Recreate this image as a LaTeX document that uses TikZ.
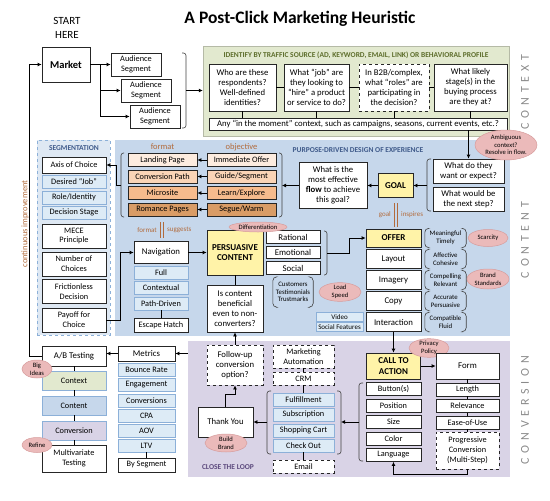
\documentclass[tikz,border=0pt]{standalone}
\usepackage{fontspec}
\setmainfont{Carlito}
\newfontfamily\spacedfont[LetterSpace=40]{Carlito}
\usetikzlibrary{positioning,arrows.meta,shapes.geometric}

\definecolor{ctxgreen}{HTML}{E2E9CF}
\definecolor{cntblue}{HTML}{C6D7EB}
\definecolor{cnvpurple}{HTML}{D9D3E6}
\definecolor{segblue}{HTML}{DEE8F3}
\definecolor{subblue}{HTML}{DDEBF6}
\definecolor{subline}{HTML}{8CB0D8}
\definecolor{yel}{HTML}{FFF3A8}
\definecolor{peachA}{HTML}{FDECDF}
\definecolor{peachB}{HTML}{FAD4B6}
\definecolor{peachC}{HTML}{F6BB8D}
\definecolor{peachD}{HTML}{D99C66}
\definecolor{pinkf}{HTML}{EBBABA}
\definecolor{pinkd}{HTML}{D79C9C}
\definecolor{brn}{HTML}{B26B3C}
\definecolor{hgreen}{HTML}{5E6E2C}
\definecolor{hblue}{HTML}{3F5A8A}
\definecolor{hpurple}{HTML}{5D4A7E}
\definecolor{sidegray}{HTML}{8A8A8A}

\tikzset{
  box/.style={draw=black!85, fill=white, line width=.8pt, align=center, inner sep=1pt,
    font=\fontsize{8.3}{9.8}\selectfont},
  qbox/.style={box, font=\fontsize{8.7}{10}\selectfont},
  sub/.style={box, fill=subblue, draw=subline},
  hot/.style={box, fill=yel, font=\fontsize{9}{10.5}\selectfont\bfseries},
  blob/.style={ellipse, fill=pinkf, draw=pinkd, line width=.5pt, inner sep=0pt, align=center,
    font=\fontsize{6.6}{7.6}\selectfont},
  note/.style={align=center, inner sep=1pt, font=\fontsize{6.8}{7.8}\selectfont},
  region/.style={inner sep=0pt, line width=.4pt},
  heading/.style={font=\fontsize{7.5}{9}\selectfont\bfseries},
  sidelbl/.style={rotate=90, text=sidegray, font=\spacedfont\fontsize{12}{13}\selectfont},
  brnlbl/.style={text=brn, inner sep=1pt, font=\fontsize{7}{8}\selectfont},
  arr/.style={-{Latex[length=4pt,width=4pt]}, line width=.8pt},
  ln/.style={line width=.8pt},
  brk/.style={line width=.6pt, draw=black!75, rounded corners=2.5pt},
  twin/.style={brn, line width=.9pt},
  wh/.style 2 args={minimum width=#1, minimum height=#2},
}
\newcommand\parenbox[1]{%
  \draw[brk, rounded corners=4pt] ([xshift=3pt]#1.north west) -- (#1.north west) -- (#1.south west) -- ([xshift=3pt]#1.south west);
  \draw[brk, rounded corners=4pt] ([xshift=-3pt]#1.north east) -- (#1.north east) -- (#1.south east) -- ([xshift=-3pt]#1.south east);}

\begin{document}
\begin{tikzpicture}[x=1pt,y=-1pt]
\useasboundingbox (0,0) rectangle (550,501);

% regions
\node[region, fill=ctxgreen, draw=ctxgreen!80!black, wh={306}{90}] (ctx) at (356,91) {};
\node[region, fill=cntblue, wh={395}{196}] (cnt) at (312.5,238) {};
\node[region, fill=cnvpurple, wh={322}{136}] (cnv) at (349,409) {};
\node[region, fill=segblue, draw=subline, dashed, line width=.8pt, wh={73}{195}] (seg) at (73.5,237.5) {};

\node[font=\fontsize{17.5}{20}\selectfont\bfseries] (title) at (300,19) {A Post-Click Marketing Heuristic};
\node[align=center, font=\fontsize{11}{13.5}\selectfont] (start) at (67,28) {START\\HERE};

% market
\node[box, wh={48}{35}, font=\fontsize{10.5}{12}\selectfont\bfseries] (market) at (66,64.5) {Market};
\foreach \i/\x/\y in {1/136/64.5, 2/146/90.5, 3/155/116.5}
  \node[box, wh={50}{23}, font=\fontsize{8.3}{9.6}\selectfont] (aud\i) at (\x,\y) {Audience\\Segment};
\draw[arr] (market.east) -- (aud1.west);
\foreach \i in {2,3}
  \draw[arr] ([xshift=10pt]market.east) |- (aud\i.west);
\draw[brk] (182,53) -- (186,53) -- (186,128) -- (182,128);
\coordinate (audbrk) at (186,90.5);
\draw[arr] (audbrk) -- (ctx.west |- audbrk);

% context
\node[heading, text=hgreen] (ctxhead) at (356,55) {IDENTIFY BY TRAFFIC SOURCE (AD, KEYWORD, EMAIL, LINK) OR BEHAVIORAL PROFILE};
\node[qbox, wh={67}{47}] (q1) at (242.5,87.5) {Who are these\\respondents?\\Well-defined\\identities?};
\node[qbox, wh={65}{47}] (q2) at (316.5,87.5) {What “job” are\\they looking to\\“hire” a product\\or service to do?};
\node[qbox, dashed, wh={70}{47}] (q3) at (394,87.5) {In B2B/complex,\\what “roles” are\\participating in\\the decision?};
\node[qbox, wh={73}{47}] (q4) at (470.5,87.5) {What likely\\stage(s) in the\\buying process\\are they at?};
\node[qbox, wh={298}{12}, inner sep=0pt] (moment) at (358,124) {Any “in the moment” context, such as campaigns, seasons, current events, etc.?};
\draw[ln] (q1) -- (q2) (q2) -- (q3) (q3) -- (q4);
\foreach \q in {q1,q2,q3,q4}
  \draw[ln] (\q.south) -- (\q.south |- moment.north);
\node[sidelbl] (ctxlbl) at (525,92) {CONTEXT};

% segmentation
\node[heading, text=hblue] (seghead) at (74,148) {SEGMENTATION};
\node[box, wh={64}{16}] (axis) at (74,165) {Axis of Choice};
\node[sub, wh={64}{13}] (job) at (74,182) {Desired “Job”};
\node[sub, wh={64}{13}] (role) at (74,197.5) {Role/Identity};
\node[sub, wh={64}{13}] (stage) at (74,212.5) {Decision Stage};
\node[box, wh={64}{24}] (mece) at (74,236) {MECE\\Principle};
\node[box, wh={64}{24}] (choices) at (74,264) {Number of\\Choices};
\node[box, wh={64}{24}] (friction) at (74,291.5) {Frictionless\\Decision};
\node[box, wh={64}{24}] (payoff) at (74,320) {Payoff for\\Choice};

% format / objective
\node[text=brn, font=\fontsize{8.5}{9}\selectfont] (fmtlbl) at (162.5,147) {format};
\node[text=brn, font=\fontsize{8.5}{9}\selectfont] (objlbl) at (241.5,147) {objective};
\node[box, fill=peachA, wh={69}{13}] (fmt1) at (162.5,160) {Landing Page};
\node[box, fill=peachB, wh={69}{13}] (fmt2) at (162.5,176.5) {Conversion Path};
\node[box, fill=peachC, wh={69}{13}] (fmt3) at (162.5,193) {Microsite};
\node[box, fill=peachD, wh={69}{13}] (fmt4) at (162.5,209.5) {Romance Pages};
\node[box, fill=peachA, wh={69}{13}] (obj1) at (241.5,160) {Immediate Offer};
\node[box, fill=peachB, wh={69}{13}] (obj2) at (241.5,176.5) {Guide/Segment};
\node[box, fill=peachC, wh={69}{13}] (obj3) at (241.5,193) {Learn/Explore};
\node[box, fill=peachD, wh={69}{13}] (obj4) at (241.5,209.5) {Segue/Warm};
\foreach \i in {1,...,4}
  \draw[arr] (obj\i) -- (fmt\i);
\draw[brk] (124,153) -- (121,153) -- (121,217) -- (124,217);
\coordinate (fmtbrk) at (121,185);
\draw[arr] (fmtbrk) -- ++(-5,0) |- (axis.east);
\draw[brk] (279,153) -- (282,153) -- (282,217) -- (279,217);
\coordinate (objbrk) at (282,185.5);

% goal
\node[heading, text=hblue] (cnthead) at (358,150) {PURPOSE-DRIVEN DESIGN OF EXPERIENCE};
\node[qbox, wh={68}{46}] (flow) at (333,185.5) {What is the\\most effective\\\textbf{flow} to achieve\\this goal?};
\draw[arr] (flow.west) -- (objbrk);
\node[hot, wh={35}{24}] (goal) at (395.5,185.5) {GOAL};
\draw[arr] (goal) -- (flow);
\node[qbox, wh={71}{24}] (want) at (468.5,171) {What do they\\want or expect?};
\node[qbox, wh={71}{24}] (next) at (468.5,199) {What would be\\the next step?};
\draw[brk] (431,159) -- (427,159) -- (427,211) -- (431,211);
\coordinate (wantbrk) at (427,185.5);
\draw[arr] (wantbrk) -- (goal.east);
\draw[arr] (moment.south -| want.north) -- (want.north);
\node[blob, wh={62}{30}] (ambig) at (506,145) {Ambiguous\\context?\\Resolve in flow.};

\draw[twin] (394.5,203) -- (394.5,227) (397.5,203) -- (397.5,227);
\node[brnlbl, anchor=east] (goallbl) at (392,215) {goal};
\node[brnlbl, anchor=west] (insplbl) at (400,215) {inspires};
\draw[twin] (160.5,222) -- (160.5,238) (163.5,222) -- (163.5,238);
\node[brnlbl, anchor=east] (formatlbl) at (158,230) {format};
\node[brnlbl, anchor=west] (suggestlbl) at (166,230) {suggests};

% offer
\node[hot, wh={55}{18}] (offer) at (393.5,238) {OFFER};
\foreach \t [count=\i] in {Layout,Imagery,Copy,Interaction}
  \node[box, wh={55}{19}, font=\fontsize{8.8}{10}\selectfont] (off\i) at (393.5,238+21*\i) {\t};
\foreach \a/\b [count=\i from 0] in {Meaningful/Timely, Affective/Cohesive, Compelling/Relevant, Accurate/Persuasive, Compatible/Fluid}{
  \node[note, wh={41}{19}] (why\i) at (445.5,238+21*\i) {\a\\\b};
  \parenbox{why\i}
}
\node[blob, wh={40}{17}] (scarcity) at (488,238) {Scarcity};
\node[blob, wh={42}{20}] (brand) at (488,279) {Brand\\Standards};

% persuasive content
\node[hot, wh={56}{45}] (pers) at (235,252.5) {PERSUASIVE\\CONTENT};
\foreach \t/\y [count=\i] in {Rational/237, Emotional/252.5, Social/268}
  \node[box, wh={54}{12.5}, font=\fontsize{8.8}{10}\selectfont] (app\i) at (293,\y) {\t};
\draw[brk] (324,231) -- (327,231) -- (327,275) -- (324,275);
\coordinate (persbrk) at (327,253);
\draw[arr] (persbrk) -- ++(22,0) |- (offer.west);
\node[blob, wh={58}{10}] (diff) at (258,227) {Differentiation};

\node[box, wh={54}{22}, font=\fontsize{8.8}{10}\selectfont] (nav) at (161,252.5) {Navigation};
\foreach \t/\y [count=\i] in {Full/272.5, Contextual/288, Path-Driven/303.5}
  \node[sub, wh={54}{13}] (nav\i) at (161,\y) {\t};
\node[box, wh={54}{14}] (escape) at (161,325) {Escape Hatch};
\draw[ln] (nav3) -- (escape);
\draw[arr] (nav) -- (pers);
\draw[arr] (payoff.east) -- ++(14,0) |- (nav.west);

\node[note, wh={40}{30}] (proof) at (293,292) {Customers\\Testimonials\\Trustmarks};
\parenbox{proof}
\node[blob, wh={42}{18}] (speed) at (340,292) {Load\\Speed};
\node[sub, wh={47}{9}, inner sep=0pt, font=\fontsize{7}{8}\selectfont] (video) at (339.5,317) {Video};
\node[sub, wh={47}{9}, inner sep=0pt, font=\fontsize{7}{8}\selectfont] (social) at (339.5,327) {Social Features};
\node[qbox, wh={56}{47}] (benefit) at (235,308.5) {Is content\\beneficial\\even to non-\\converters?};
\draw[ln] (pers) -- (benefit);
\node[sidelbl] (cntlbl) at (525,240) {CONTENT};

% conversion
\node[qbox, dashed, wh={56}{40}] (followup) at (235,365) {Follow-up\\conversion\\option?};
\draw[arr] (followup) -- (benefit);
\node[qbox, wh={55}{30}] (thanks) at (225.5,422) {Thank You};
\draw[arr] (thanks.north) -- ++(0,-12) -| (followup.south);
\node[blob, wh={42}{18}] (build) at (226,443) {Build\\Brand};
\node[heading, text=hpurple] (loophead) at (228,467) {CLOSE THE LOOP};

\node[box, dashed, wh={61}{23}] (mauto) at (303.5,356.5) {Marketing\\Automation};
\node[box, dashed, wh={61}{13}] (crm) at (303.5,378.5) {CRM};
\draw[ln] (mauto) -- (crm);
\foreach \t/\y [count=\i] in {Fulfillment/399.5, Subscription/414.5, Shopping Cart/430.5, Check Out/445.5}
  \node[sub, wh={61}{13}] (ful\i) at (303.5,\y) {\t};
\node[box, dashed, wh={61}{13}] (email) at (303.5,466.5) {Email};
\draw[ln] (crm) -- (ful1) (ful4) -- (email);
\draw[brk] (271,391) -- (267,391) -- (267,454) -- (271,454);
\draw[brk] (337,391) -- (341,391) -- (341,454) -- (337,454);
\coordinate (fulbrk) at (267,422);
\coordinate (fulbrkr) at (341,422);
\draw[arr] (fulbrk) -- (thanks.east);

\node[hot, wh={54}{26}] (cta) at (393.5,366) {CALL TO\\ACTION};
\draw[arr] (off4) -- (cta);
\foreach \t/\y [count=\i] in {Button(s)/389, Position/405.5, Size/422, Color/438.5, Language/455}
  \node[box, wh={55}{13}] (cta\i) at (393.5,\y) {\t};
\draw[brk] (363,383) -- (359,383) -- (359,461) -- (363,461);
\coordinate (ctabrk) at (359,422);
\draw[arr] (ctabrk) -- (fulbrkr);
\node[blob, wh={40}{18}] (privacy) at (429,348) {Privacy\\Policy};

\node[box, wh={63}{26}, font=\fontsize{8.8}{10}\selectfont] (form) at (467.5,366) {Form};
\foreach \t/\y [count=\i] in {Length/389.5, Relevance/406, Ease-of-Use/422.5}
  \node[box, wh={63}{13}] (form\i) at (467.5,\y) {\t};
\node[box, dashed, wh={63}{37}] (prog) at (467.5,450.5) {Progressive\\Conversion\\(Multi-Step)};
\draw[ln] (form) -- (form1) (form1) -- (form2) (form2) -- (form3) (form3) -- (prog);
\draw[arr] (cta) -- (form);
\draw[arr] (prog.south) -- ++(0,5) -| (cta5.south);
\node[sidelbl] (cnvlbl) at (525,410) {CONVERSION};

% testing
\node[box, wh={64}{20}, font=\fontsize{8.8}{10}\selectfont] (ab) at (74,356) {A/B Testing};
\node[box, fill=ctxgreen, draw=subline, wh={64}{19}] (tctx) at (74,380.5) {Context};
\node[box, fill=cntblue, draw=subline, wh={64}{19}] (tcnt) at (74,405.5) {Content};
\node[box, fill=cnvpurple, draw=subline, wh={64}{19}] (tcnv) at (74,430.5) {Conversion};
\node[box, wh={64}{27}] (multi) at (74,458.5) {Multivariate\\Testing};
\draw[ln] (ab) -- (tctx) (tctx) -- (tcnt) (tcnt) -- (tcnv) (tcnv) -- (multi);
\node[blob, wh={30}{18}] (bigideas) at (37,369) {Big\\Ideas};
\node[blob, wh={30}{15}] (refine) at (37,445) {Refine};

\node[box, wh={57}{15}, font=\fontsize{8.8}{10}\selectfont] (metrics) at (146.5,353.5) {Metrics};
\foreach \t/\y [count=\i] in {Bounce Rate/369.5, Engagement/385, Conversions/400.5, CPA/415.5, AOV/430.5, LTV/445.5}
  \node[sub, wh={57}{13}] (met\i) at (146.5,\y) {\t};
\node[box, wh={57}{14}] (byseg) at (146.5,465) {By Segment};
\draw[ln] (met6) -- (byseg);
\draw[arr] (cnv.west |- metrics) -- (metrics);
\draw[arr] (metrics.west) -- (ab.east |- metrics.west);

\draw[arr] (ab.west) -- ++(-12,0) |- (market.west);
\node[rotate=90, text=brn, font=\fontsize{8.5}{9}\selectfont] (loop) at (25,224) {continuous improvement};
\end{tikzpicture}
\end{document}
